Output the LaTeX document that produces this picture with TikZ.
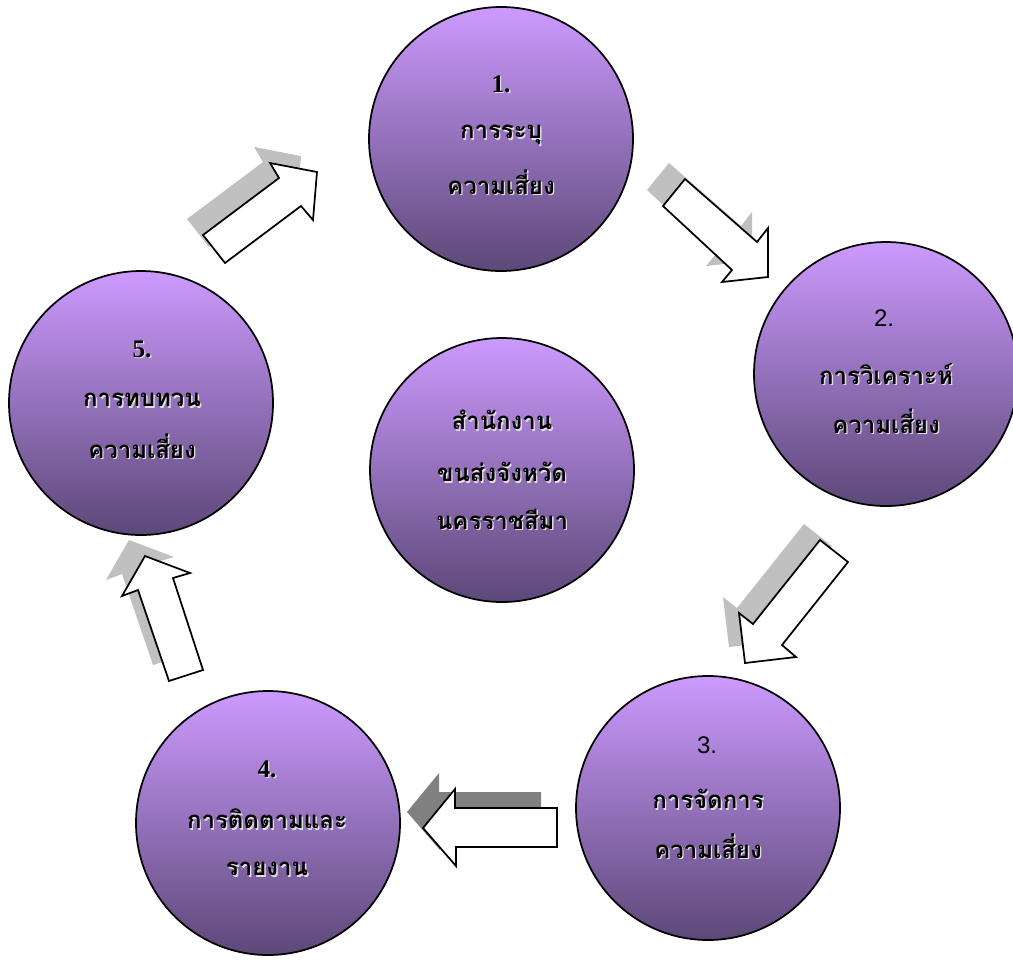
\documentclass[tikz,border=0pt]{standalone}
\usepackage{fontspec}
\setmainfont{Liberation Serif}
\newfontfamily\thaifont[Script=Thai]{Loma}
\newfontfamily\arialfont{Liberation Sans}
\definecolor{ctop}{RGB}{204,154,254}
\definecolor{cmid}{RGB}{178,136,224}
\definecolor{cbot}{RGB}{92,72,120}
\definecolor{shadehalf}{RGB}{192,192,192}
\definecolor{shadedark}{RGB}{128,128,128}
\tikzset{
  stage/.style={circle, draw=black, line width=1.3pt, minimum size=198pt, inner sep=0pt,
    top color=ctop, middle color=cmid, bottom color=cbot},
  arrowbody/.style={draw=black, fill=white, line width=1.3pt, line join=miter},
  txt/.style={font=\thaifont\bfseries\fontsize{18}{20}\selectfont, text=black, inner sep=0pt},
  txtsh/.style={font=\thaifont\bfseries\fontsize{18}{20}\selectfont, text=white!75!gray, inner sep=0pt},
  num/.style={font=\bfseries\fontsize{19}{22}\selectfont, text=black, inner sep=0pt},
  numsh/.style={font=\bfseries\fontsize{19}{22}\selectfont, text=white!75!gray, inner sep=0pt},
  anum/.style={font=\arialfont\fontsize{18}{20}\selectfont, text=black, inner sep=0pt},
}
\newcommand\thline[4][txt]{%
  \node[#1sh] at (#2+1.4,#3+1.4) {#4};
  \node[#1] at (#2,#3) {#4};}
\newcommand\blockarrow[2]{%
  \fill[#1, shift={(-16,-16)}] #2 -- cycle;
  \draw[arrowbody] #2 -- cycle;}
\begin{document}
\begin{tikzpicture}[x=0.75pt,y=-0.75pt]
\useasboundingbox (0,0) rectangle (1013,961);
% circles
\node[stage] (c1) at (501,139) {};
\node[stage] (c2) at (886,374) {};
\node[stage] (c3) at (708,808) {};
\node[stage] (c4) at (268,823) {};
\node[stage] (c5) at (141,403) {};
\node[stage] (c0) at (502,470) {};
% block arrows with shadows
\blockarrow{shadehalf}{(203,235) -- (225,263) -- (301,206) -- (313,220) -- (317,172) -- (270,163) -- (279,178)}
\blockarrow{shadehalf}{(685,179) -- (663,206) -- (732,270) -- (722,282) -- (768,277) -- (768,228) -- (757,242)}
\blockarrow{shadehalf}{(820,540) -- (848,562) -- (782,645) -- (796,657) -- (745,663) -- (739,613) -- (753,624)}
\blockarrow{shadedark}{(557,808) -- (557,847) -- (456,847) -- (456,866) -- (423,828) -- (455,789) -- (455,808)}
\blockarrow{shadehalf}{(169,681) -- (203,670) -- (173,578) -- (190,573) -- (145,556) -- (122,596) -- (138,590)}
% texts
\thline[num]{501}{84}{1.}
\thline{501}{135}{การระบุ}
\thline{501}{182}{ความเสี่ยง}
\node[anum] at (884,318) {2.};
\thline{886}{374}{การวิเคราะห์}
\thline{886}{421}{ความเสี่ยง}
\node[anum] at (707,745) {3.};
\thline{708}{799}{การจัดการ}
\thline{708}{846}{ความเสี่ยง}
\thline[num]{267}{769}{4.}
\thline{267}{819}{การติดตามและ}
\thline{267}{869}{รายงาน}
\thline[num]{142}{349}{5.}
\thline{142}{400}{การทบทวน}
\thline{142}{446}{ความเสี่ยง}
\thline{502}{420}{สำนักงาน}
\thline{502}{472}{ขนส่งจังหวัด}
\thline{502}{519}{นครราชสีมา}
\end{tikzpicture}
\end{document}
